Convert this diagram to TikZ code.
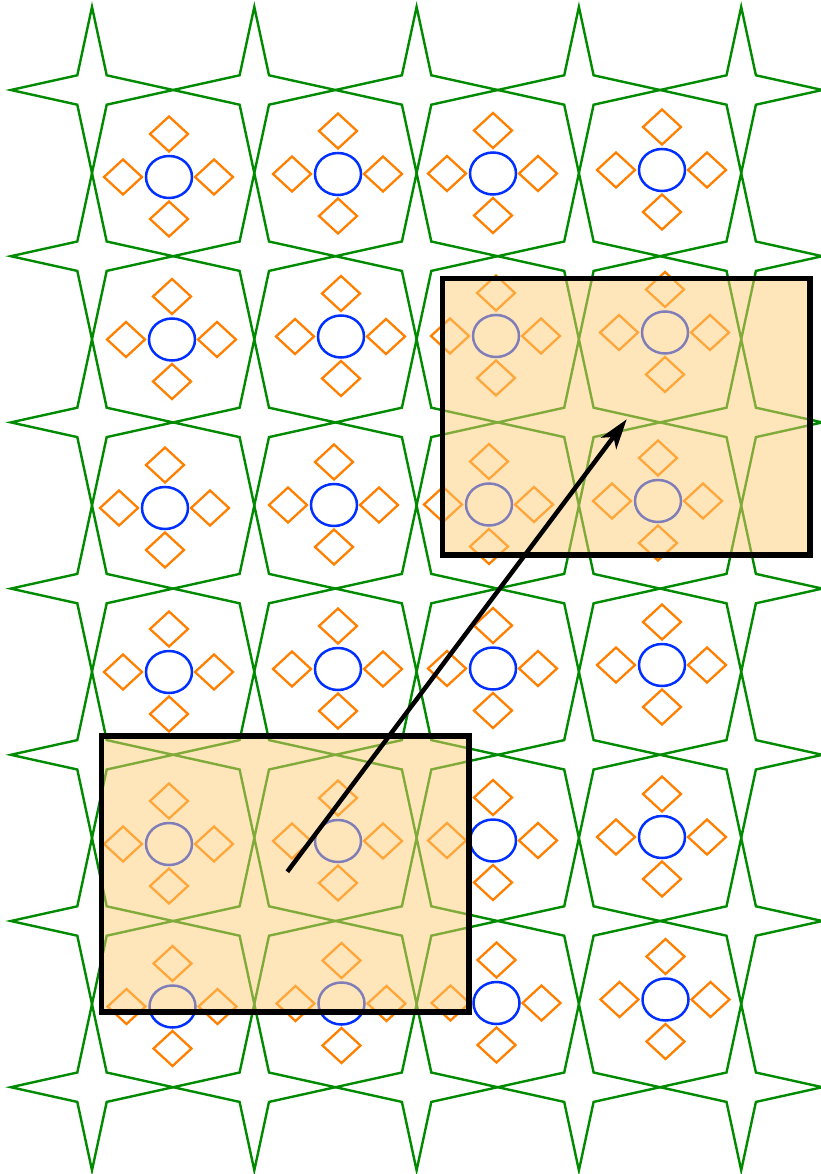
\documentclass[tikz,border=0pt]{standalone}
\usetikzlibrary{arrows.meta}
\definecolor{stargreen}{RGB}{0,138,0}
\definecolor{ellblue}{RGB}{0,48,255}
\definecolor{diaorange}{RGB}{255,128,0}
\definecolor{boxfill}{RGB}{255,205,117}
\tikzset{
  starline/.style={draw=stargreen, line width=2.4pt, line join=miter},
  ellline/.style={draw=ellblue, line width=2.5pt},
  dialine/.style={draw=diaorange, line width=2.3pt, line join=miter},
  boxfillstyle/.style={fill=boxfill, fill opacity=0.5},
  boxline/.style={draw=black, line width=5.5pt},
  arrowline/.style={draw=black, line width=4.5pt, -{Stealth[length=30pt,width=19pt,inset=8pt]}}
}
\begin{document}
\begin{tikzpicture}[x=1pt,y=-1pt]
\useasboundingbox (0,0) rectangle (820,1174);
% stars
\foreach \i in {0,...,4}{
  \foreach \j in {0,...,6}{
    \draw[starline, shift={({92+162.3*\i},{90+166.2*\j})}]
      (-81.15,0) -- (-14.7,-14.7) -- (0,-83.1) -- (14.7,-14.7) -- (81.15,0)
      -- (14.7,14.7) -- (0,83.1) -- (-14.7,14.7) -- cycle;
  }
}
% motifs
\foreach \cx/\dy in {169/0,338/-3,493/-3.5,662/-7}{
  \foreach \cy/\dx in {177/0,339.5/3,508/-4,672/0,844/0,1006.5/3.5}{
    \begin{scope}[shift={({\cx+\dx},{\cy+\dy})}]
      \draw[ellline] (0,0) ellipse [x radius=23, y radius=21];
      \foreach \ox/\oy in {0/-43,0/42,-46/0,45/0}{
        \draw[dialine, shift={(\ox,\oy)}] (0,-17.5) -- (19,0) -- (0,17.5) -- (-19,0) -- cycle;
      }
    \end{scope}
  }
}
% boxes
\coordinate (upA) at (442.5,278.5);
\coordinate (upB) at (810,555);
\coordinate (loA) at (101.5,735.8);
\coordinate (loB) at (469,1012);
\fill[boxfillstyle] (upA) rectangle (upB);
\fill[boxfillstyle] (loA) rectangle (loB);
\draw[boxline] (upA) rectangle (upB);
\draw[boxline] (loA) rectangle (loB);
% arrow
\coordinate (arrowstart) at (287.3,871.7);
\coordinate (arrowend) at (626.7,419.3);
\draw[arrowline] (arrowstart) -- (arrowend);
\end{tikzpicture}
\end{document}
